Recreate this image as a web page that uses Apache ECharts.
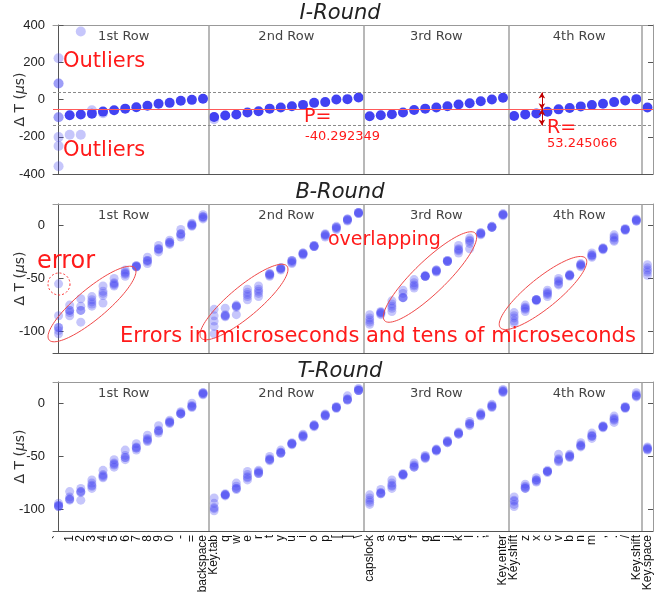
<!DOCTYPE html>
<html><head><meta charset="utf-8">
<script src="https://cdn.jsdelivr.net/npm/echarts@6/dist/echarts.min.js"></script>
<style>html,body{margin:0;padding:0;background:#fff}#c{width:659px;height:594px}</style>
</head><body><div id="c"></div>
<script>
// ---------- categories ----------
const keys = ['`','1','2','3','4','5','6','7','8','9','0','-','=','backspace',
  'Key.tab','q','w','e','r','t','y','u','i','o','p','[',']','\\',
  'capslock','a','s','d','f','g','h','j','k','l',';',"'",'Key.enter',
  'Key.shift','z','x','c','v','b','n','m',',','.','/','Key.shift',
  'Key.space'];
const rowNames = ['1st Row','2nd Row','3rd Row','4th Row'];
const rowBounds = [[-0.5,13.5],[13.5,27.5],[27.5,40.5],[40.5,52.5]];
const dividers = [13.5,27.5,40.5,52.5];
const roundTitles = ['I-Round','B-Round','T-Round'];
const iYTicks = [-400,-200,0,200,400];
const btYTicks = [-100,-50,0];

// ---------- I-Round ----------
const iRoundMain = [
  null,-85,-81,-76,-65,-58,-49,-42,-34,-23,-18,-7,-2,4,
  -94,-86,-81,-70,-63,-49,-43,-36,-29,-18,-14,0,2,11,
  -90,-85,-79,-70,-56,-49,-43,-36,-27,-20,-9,0,9,
  -89,-80,-75,-66,-53,-46,-37,-30,-23,-14,-5,2,
  -43];
const iFaintIdx = [0,0,0,0,0,0,0,0,1,2,2,3,4,14];
const iFaintVal = [221,86,86,-95,-95,-202,-250,-358,-189,365,-189,-58,-74,-106];
const iBandUpper = 38, iBandMean = -52, iBandLower = -140;
const arrowKeyPos = 43.5;

// ---------- B-Round (trials per key) ----------
const bRound = [
  [-55,-85,-96,-96,-99,-102],[-75,-80,-80,-82,-85],[-69,-76,-80,-80,-91],[-67,-70,-72,-74,-76],
  [-57,-62,-64,-66,-73],[-50,-54,-55,-56,-57],[-42,-44,-45,-46,-48],[-38,-39,-39,-38,-39],
  [-30,-33,-34,-36,-33],[-19,-22,-23,-25,-22],[-14,-16,-17,-18,-16],[-4,-8,-9,-11,-8],
  [2,0,-1,0,1],[10,8,7,6,8],
  [-79,-85,-90,-95,-102],[-78,-85,-85,-86,-84],[-75,-76,-76,-84,-77],[-60,-63,-65,-67,-70],
  [-57,-60,-62,-64,-67],[-45,-46,-47,-48,-46],[-40,-41,-42,-41,-40],[-33,-34,-36,-35,-33],
  [-26,-27,-28,-27,-26],[-19,-20,-20,-19,-20],[-8,-9,-11,-10,-9],[-1,-2,-4,-3,-2],
  [6,5,4,5,6],[12,11,12,11,12],
  [-84,-87,-89,-91,-93],[-81,-82,-84,-83,-82],[-71,-74,-76,-78,-81],[-61,-64,-68,-68,-68],
  [-51,-54,-56,-57,-59],[-48,-48,-48,-47,-48],[-42,-43,-43,-42,-44],[-33,-34,-34,-33,-34],
  [-19,-22,-23,-24,-26],[-12,-14,-15,-17,-22],[-7,-8,-9,-8,-7],[-1,-2,-2,-1,-2],
  [10,10,11,10,9],
  [-82,-85,-87,-90,-92],[-75,-77,-78,-79,-81],[-70,-70,-70,-71,-70],[-61,-63,-64,-65,-67],
  [-50,-52,-53,-55,-56],[-47,-47,-46,-47,-48],[-36,-37,-37,-38,-39],[-26,-28,-29,-30,-28],
  [-22,-22,-21,-22,-23],[-9,-11,-12,-14,-15],[-3,-4,-4,-5,-4],[5,4,4,5,6],
  [-37,-40,-42,-44,-47]];

// ---------- T-Round (trials per key) ----------
const tRound = [
  [-94,-96,-96,-97,-97],[-83,-88,-90,-90,-91],[-80,-83,-83,-84,-91],[-72,-75,-77,-78,-80],
  [-63,-67,-68,-69,-70],[-53,-56,-57,-58,-60],[-44,-49,-51,-51,-53],[-38,-41,-42,-42,-44],
  [-30,-33,-34,-35,-36],[-21,-25,-26,-26,-28],[-16,-18,-19,-18,-17],[-8,-10,-10,-9,-10],
  [0,-3,-2,-3,-4],[10,9,10,9,8],
  [-89,-94,-98,-99,-101],[-86,-86,-87,-86,-85],[-75,-78,-80,-80,-81],[-64,-67,-69,-70,-72],
  [-63,-64,-65,-66,-66],[-50,-52,-53,-54,-53],[-44,-46,-47,-47,-46],[-37,-38,-38,-39,-38],
  [-29,-30,-31,-32,-31],[-20,-21,-21,-22,-21],[-10,-11,-12,-12,-11],[-3,-4,-4,-5,-4],
  [7,4,3,3,4],[14,12,12,13,12],
  [-86,-89,-91,-93,-95],[-81,-84,-85,-85,-84],[-72,-75,-77,-78,-80],[-66,-67,-67,-68,-67],
  [-56,-58,-60,-60,-59],[-49,-50,-51,-52,-51],[-43,-44,-44,-45,-44],[-35,-36,-37,-37,-36],
  [-27,-28,-29,-29,-28],[-17,-19,-19,-20,-21],[-9,-10,-11,-12,-11],[-1,-2,-3,-4,-3],
  [13,12,11,10,11],
  [-88,-91,-92,-95,-97],[-76,-78,-80,-80,-79],[-70,-72,-74,-73,-72],[-63,-64,-65,-64,-64],
  [-48,-52,-54,-55,-53],[-48,-49,-50,-51,-50],[-37,-39,-40,-41,-40],[-28,-30,-31,-33,-31],
  [-21,-22,-23,-22,-22],[-12,-14,-16,-18,-15],[-3,-4,-4,-5,-4],[10,8,7,6,7],
  [-41,-42,-43,-44,-43]];

// ---------- layout / style ----------
const gridTops = [25, 204, 382];
const gridH = 149;
const dotColor = '#4242f2';
const faintColor = 'rgba(66,66,242,0.3)';
const frameDark = '#555';
const frameLight = '#999';
const axisFont = 'Liberation Sans';
const annFont = 'DejaVu Sans';
const red = '#ff1a1a';

const chart = echarts.init(document.getElementById('c'));
const grids = [], xAxes = [], yAxes = [], series = [];

gridTops.forEach((top, g) => {
  grids.push({left: 53, width: 600, top: top, height: gridH, outerBoundsMode: 'none', containLabel: false});
  const isI = g === 0;
  const yMin = isI ? -400 : -120, yMax = isI ? 400 : 20;
  const ticks = isI ? iYTicks : btYTicks;
  xAxes.push({type: 'category', gridIndex: g, position: 'bottom', data: keys,
    boundaryGap: true,
    axisLine: {onZero: false, lineStyle: {color: frameDark, width: 1}},
    axisTick: {inside: true, alignWithLabel: true, interval: 0, length: 5, lineStyle: {color: frameDark}},
    axisLabel: {show: g === 2, interval: 0, rotate: 90, margin: 4, fontSize: 12,
      color: '#111', fontFamily: axisFont},
    splitLine: {show: false}});
  xAxes.push({type: 'category', gridIndex: g, position: 'top', data: keys,
    boundaryGap: true,
    axisLine: {onZero: false, lineStyle: {color: frameLight, width: 1}},
    axisTick: {inside: true, alignWithLabel: true, interval: 0, length: 5, lineStyle: {color: frameDark}},
    axisLabel: {show: false}, splitLine: {show: false}});
  xAxes.push({type: 'value', gridIndex: g, min: -0.5, max: 53.5, show: false});
  yAxes.push({type: 'value', gridIndex: g, position: 'left', min: yMin, max: yMax,
    name: '{d|Δ T (}{m|μ}{d|s)}', nameLocation: 'middle', nameGap: 26, nameMoveOverlap: false,
    nameTextStyle: {rich: {
      d: {fontSize: 14, fontFamily: annFont, color: '#333'},
      m: {fontSize: 14, fontFamily: annFont, fontStyle: 'italic', color: '#333'}}},
    axisLine: {show: true, lineStyle: {color: frameDark}},
    axisTick: {show: true, inside: true, length: 5, customValues: ticks, lineStyle: {color: frameDark}},
    axisLabel: {customValues: ticks, margin: 8, fontSize: 13, color: '#222', fontFamily: axisFont},
    splitLine: {show: false}});
  yAxes.push({type: 'value', gridIndex: g, position: 'right', min: yMin, max: yMax,
    axisLine: {show: true, lineStyle: {color: frameLight}},
    axisTick: {show: true, inside: true, length: 5, customValues: ticks, lineStyle: {color: frameDark}},
    axisLabel: {show: false}, splitLine: {show: false}});

  series.push({type: 'scatter', xAxisIndex: 3 * g + 2, yAxisIndex: 2 * g, data: [], silent: true, z: 1,
    markLine: {silent: true, symbol: 'none', label: {show: false},
      lineStyle: {color: '#a0a0a0', width: 1.5, type: 'solid'},
      data: dividers.map(d => ({xAxis: d}))},
    markArea: {silent: true, itemStyle: {color: 'rgba(0,0,0,0)'},
      label: {position: 'insideTop', distance: 5, fontSize: 13, color: '#444', fontFamily: annFont},
      data: rowNames.map((n, i) => [
        {xAxis: rowBounds[i][0], name: n,
         label: {offset: [i === 0 ? -7 : (i === 3 ? 4 : 0), 0]}},
        {xAxis: rowBounds[i][1]}])}});
});

series.push({type: 'scatter', xAxisIndex: 2, yAxisIndex: 0, data: [], silent: true, z: 2,
  markLine: {silent: true, symbol: 'none', label: {show: false}, data: [
    {yAxis: iBandUpper, lineStyle: {color: '#8a8a8a', type: [3, 2], width: 1}},
    {yAxis: iBandMean, lineStyle: {color: '#ff5a5a', type: 'solid', width: 1}},
    {yAxis: iBandLower, lineStyle: {color: '#8a8a8a', type: [3, 2], width: 1}}]}});
series.push({type: 'scatter', xAxisIndex: 2, yAxisIndex: 0, data: [], silent: true, z: 6,
  markLine: {silent: true, symbol: ['arrow', 'arrow'], symbolSize: [5, 6], label: {show: false},
    lineStyle: {color: '#c00000', type: 'solid', width: 1},
    data: [
      [{coord: [arrowKeyPos, iBandMean]}, {coord: [arrowKeyPos, iBandUpper]}],
      [{coord: [arrowKeyPos, iBandMean]}, {coord: [arrowKeyPos, iBandLower]}]]}});

series.push({type: 'scatter', xAxisIndex: 0, yAxisIndex: 0, symbolSize: 10, z: 3,
  itemStyle: {color: faintColor, opacity: 1},
  data: iFaintIdx.map((k, i) => [k, iFaintVal[i]])});
series.push({type: 'scatter', xAxisIndex: 0, yAxisIndex: 0, symbolSize: 10, z: 4,
  itemStyle: {color: dotColor, opacity: 1},
  data: iRoundMain.map((v, k) => [k, v]).filter(p => p[1] !== null)});

[bRound, tRound].forEach((rd, j) => {
  const g = j + 1;
  const pts = [];
  rd.forEach((vals, k) => vals.forEach(v => pts.push([k, v])));
  series.push({type: 'scatter', xAxisIndex: 3 * g, yAxisIndex: 2 * g, symbolSize: 9, z: 3,
    itemStyle: {color: faintColor, opacity: 1}, data: pts});
});

// ---------- annotations ----------
function ellipsePoints(cx, cy, a, b, deg) {
  const t = deg * Math.PI / 180, pts = [];
  for (let i = 0; i < 96; i++) {
    const u = i / 96 * 2 * Math.PI;
    const ex = a * Math.cos(u), ey = b * Math.sin(u);
    pts.push([cx + ex * Math.cos(t) + ey * Math.sin(t), cy - ex * Math.sin(t) + ey * Math.cos(t)]);
  }
  return pts;
}
const ellipses = [[92, 304, 56, 15, 40], [244, 302, 56, 15, 40], [430, 277, 63, 16, 44], [543, 293, 55, 15, 39]];

function txt(x, y, s, size, color) {
  return {type: 'text', x: x, y: y, z: 100,
    style: {text: s, fill: color, fontSize: size, fontFamily: annFont,
      align: 'left', verticalAlign: 'middle'}};
}
const graphic = [];
const titleY = [14, 193, 372];
roundTitles.forEach((t, i) => graphic.push({type: 'text', x: 340, y: titleY[i], z: 100,
  style: {text: t, fill: '#222', fontSize: 21, fontStyle: 'italic', fontFamily: annFont,
    align: 'center', verticalAlign: 'middle'}}));
graphic.push(txt(63, 62, 'Outliers', 21, red));
graphic.push(txt(63, 151, 'Outliers', 21, red));
graphic.push(txt(304, 117, 'P=', 19, red));
graphic.push(txt(305, 137, '-40.292349', 13, red));
graphic.push(txt(547, 128, 'R=', 19, red));
graphic.push(txt(547, 144, '53.245066', 13, red));
graphic.push(txt(37, 262, 'error', 24, red));
graphic.push(txt(328, 240, 'overlapping', 19, red));
graphic.push(txt(120, 337, 'Errors in microseconds and tens of microseconds', 21, red));
graphic.push({type: 'circle', z: 99, shape: {cx: 59, cy: 284, r: 11},
  style: {fill: 'none', stroke: '#ff3030', lineWidth: 1, lineDash: [2, 2]}});
ellipses.forEach(e => graphic.push({type: 'polygon', z: 99,
  shape: {points: ellipsePoints(e[0], e[1], e[2], e[3], e[4])},
  style: {fill: 'none', stroke: '#f04848', lineWidth: 1}}));

chart.setOption({
  animation: false,
  backgroundColor: '#fff',
  grid: grids, xAxis: xAxes, yAxis: yAxes, series: series, graphic: graphic
});
</script></body></html>
